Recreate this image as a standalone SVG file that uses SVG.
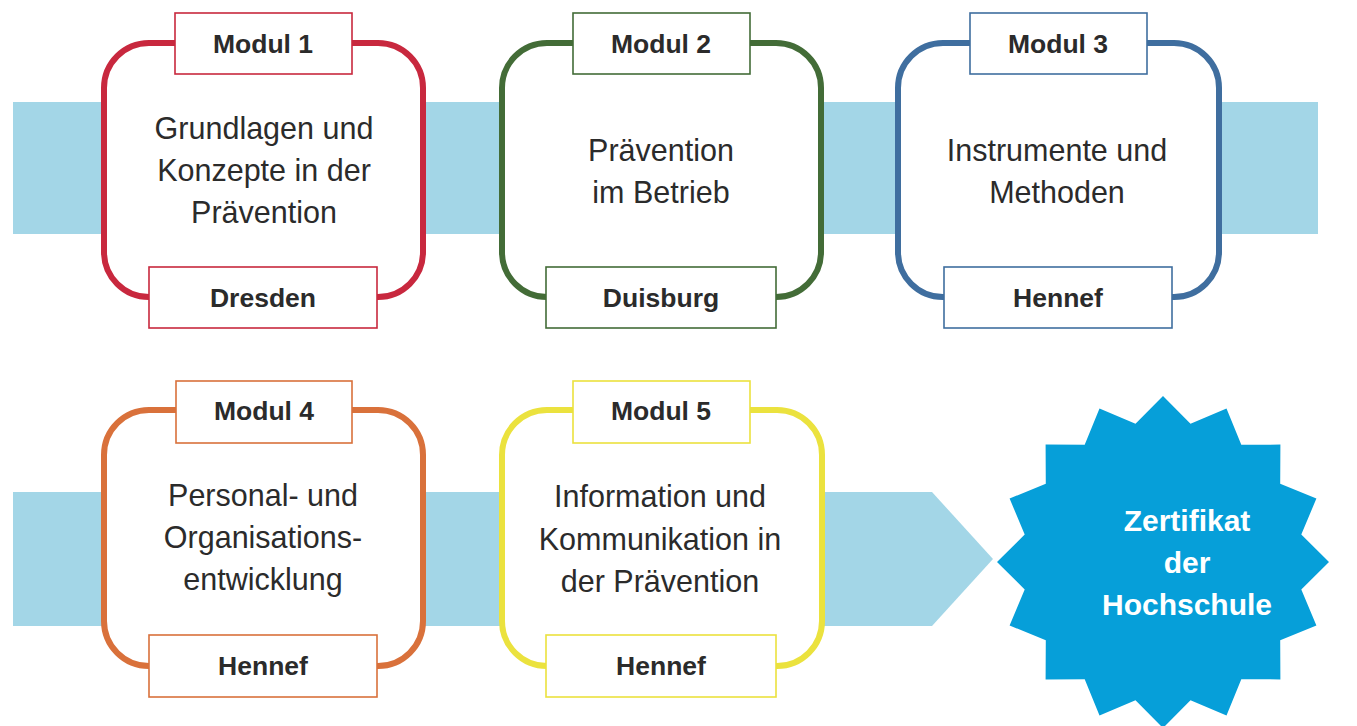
<svg xmlns="http://www.w3.org/2000/svg" width="1357" height="726" viewBox="0 0 1357 726">
<style>
.band{fill:#a3d6e7}
.frame{fill:#fff;stroke-width:6}
.lbl{fill:#fff;stroke-width:1.6}
.t{font-family:"Liberation Sans",Arial,sans-serif;font-size:30.5px;fill:#2b2b2b;text-anchor:middle}
.b{font-family:"Liberation Sans",Arial,sans-serif;font-size:26.5px;font-weight:bold;fill:#2b2b2b;text-anchor:middle}
.s{font-family:"Liberation Sans",Arial,sans-serif;font-size:30px;font-weight:bold;fill:#fff;text-anchor:middle}
.red{stroke:#c8283e}.green{stroke:#436c37}.blue{stroke:#3f6e9f}.orange{stroke:#d9713b}.yellow{stroke:#ebe23e}
</style>
<rect width="1357" height="726" fill="#fff"/>
<g id="connectors">
<rect class="band" x="13" y="102" width="1305" height="132"/>
<polygon class="band" points="13,492 932,492 993,559 932,626 13,626"/>
</g>
<g id="modul1">
<rect class="frame red" x="104" y="43" width="319" height="254" rx="45"/>
<rect class="lbl red" x="175" y="13" width="177" height="61"/>
<rect class="lbl red" x="149" y="267" width="228" height="61"/>
<text class="b" x="263" y="53">Modul 1</text>
<text class="t" x="264" y="139">Grundlagen und</text>
<text class="t" x="264" y="181">Konzepte in der</text>
<text class="t" x="264" y="223">Prävention</text>
<text class="b" x="263" y="307">Dresden</text>
</g>
<g id="modul2">
<rect class="frame green" x="502" y="43" width="319" height="254" rx="45"/>
<rect class="lbl green" x="573" y="13" width="177" height="61"/>
<rect class="lbl green" x="546" y="267" width="230" height="61"/>
<text class="b" x="661" y="53">Modul 2</text>
<text class="t" x="661" y="161">Prävention</text>
<text class="t" x="661" y="203">im Betrieb</text>
<text class="b" x="661" y="307">Duisburg</text>
</g>
<g id="modul3">
<rect class="frame blue" x="898" y="43" width="321" height="254" rx="45"/>
<rect class="lbl blue" x="970" y="13" width="177" height="61"/>
<rect class="lbl blue" x="944" y="267" width="228" height="61"/>
<text class="b" x="1058" y="53">Modul 3</text>
<text class="t" x="1057" y="161">Instrumente und</text>
<text class="t" x="1057" y="203">Methoden</text>
<text class="b" x="1058" y="307">Hennef</text>
</g>
<g id="modul4">
<rect class="frame orange" x="104" y="410" width="319" height="256" rx="45"/>
<rect class="lbl orange" x="176" y="381" width="176" height="62"/>
<rect class="lbl orange" x="149" y="635" width="228" height="62"/>
<text class="b" x="264" y="420">Modul 4</text>
<text class="t" x="263" y="506">Personal- und</text>
<text class="t" x="263" y="548">Organisations-</text>
<text class="t" x="263" y="590">entwicklung</text>
<text class="b" x="263" y="675">Hennef</text>
</g>
<g id="modul5">
<rect class="frame yellow" x="502" y="410" width="320" height="256" rx="45"/>
<rect class="lbl yellow" x="573" y="381" width="177" height="62"/>
<rect class="lbl yellow" x="546" y="635" width="230" height="62"/>
<text class="b" x="661" y="420">Modul 5</text>
<text class="t" x="660" y="507">Information und</text>
<text class="t" x="660" y="550">Kommunikation in</text>
<text class="t" x="660" y="592">der Prävention</text>
<text class="b" x="661" y="675">Hennef</text>
</g>
<g id="zertifikat">
<polygon fill="#069fd9" points="1163,396 1190.5,423.7 1226.5,408.6 1241.3,444.8 1280.4,444.6 1280.2,483.7 1316.4,498.5 1301.3,534.5 1329,562 1301.3,589.5 1316.4,625.5 1280.2,640.3 1280.4,679.4 1241.3,679.2 1226.5,715.4 1190.5,700.3 1163,728 1135.5,700.3 1099.5,715.4 1084.7,679.2 1045.6,679.4 1045.8,640.3 1009.6,625.5 1024.7,589.5 997,562 1024.7,534.5 1009.6,498.5 1045.8,483.7 1045.6,444.6 1084.7,444.8 1099.5,408.6 1135.5,423.7"/>
<text class="s" x="1187" y="531">Zertifikat</text>
<text class="s" x="1187" y="573">der</text>
<text class="s" x="1187" y="615">Hochschule</text>
</g>
</svg>
